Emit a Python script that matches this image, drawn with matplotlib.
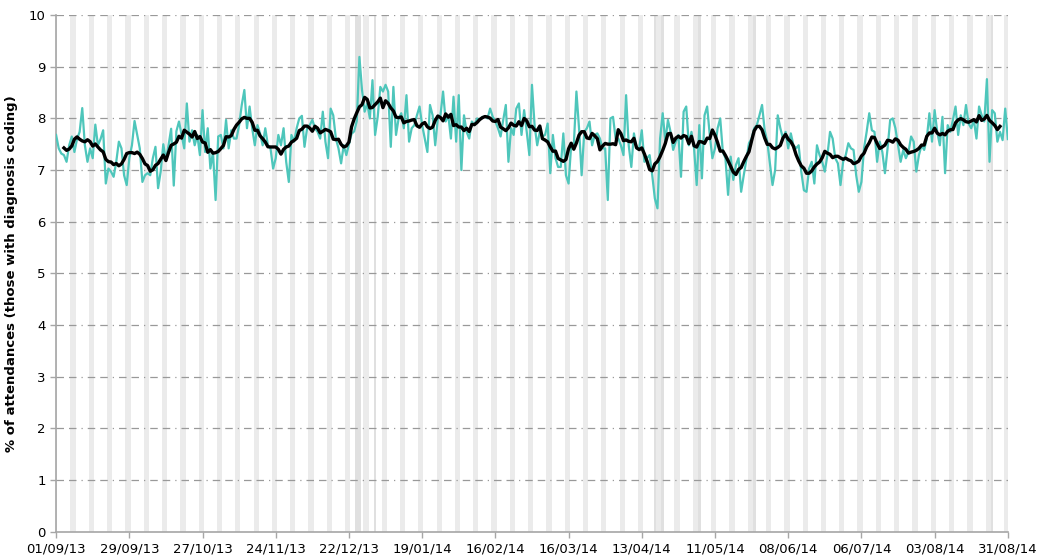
import matplotlib
matplotlib.use('Agg')
import matplotlib.pyplot as plt
import matplotlib.dates as mdates
import numpy as np
import pandas as pd

start_date = '2013-09-01'
# daily % of attendances, one row per week (Sun..Sat)
attend_pct = [
    7.68, 7.42, 7.32, 7.29, 7.16, 7.48, 7.65,
    7.35, 7.60, 7.74, 8.20, 7.48, 7.16, 7.42,
    7.23, 7.88, 7.48, 7.60, 7.77, 6.74, 7.03,
    6.97, 6.87, 7.16, 7.55, 7.42, 6.90, 6.71,
    7.23, 7.48, 7.95, 7.68, 7.42, 6.77, 6.90,
    6.94, 6.90, 7.23, 7.45, 6.65, 6.97, 7.50,
    7.19, 7.48, 7.80, 6.70, 7.75, 7.94, 7.68,
    7.42, 8.29, 7.55, 7.77, 7.48, 7.68, 7.29,
    8.16, 7.35, 7.81, 7.03, 7.35, 6.42, 7.65,
    7.68, 7.42, 7.97, 7.42, 7.77, 7.61, 7.61,
    7.87, 8.26, 8.55, 7.81, 8.23, 7.81, 7.48,
    7.87, 7.71, 7.48, 7.81, 7.48, 7.42, 7.03,
    7.23, 7.68, 7.48, 7.81, 7.16, 6.77, 7.68,
    7.55, 7.81, 8.00, 8.05, 7.45, 7.81, 7.87,
    7.97, 7.81, 7.74, 7.61, 8.13, 7.55, 7.23,
    8.19, 8.06, 7.61, 7.42, 7.13, 7.48, 7.29,
    7.50, 7.70, 7.75, 7.95, 9.19, 8.55, 8.13,
    8.29, 8.00, 8.74, 7.68, 8.03, 8.61, 8.52,
    8.65, 8.52, 7.45, 8.61, 7.68, 8.00, 8.10,
    7.81, 8.45, 7.55, 7.81, 7.87, 8.06, 8.23,
    7.87, 7.61, 7.35, 8.26, 8.06, 7.48, 8.00,
    8.06, 8.52, 7.94, 8.06, 7.61, 8.42, 7.55,
    8.45, 7.00, 8.06, 7.74, 7.61, 7.94, 7.87,
    8.00, 7.97, 8.03, 8.03, 8.00, 8.19, 8.03,
    7.94, 7.81, 7.65, 7.97, 8.26, 7.16, 7.81,
    7.68, 8.19, 8.29, 7.68, 8.16, 7.74, 7.29,
    8.65, 7.87, 7.48, 7.74, 7.65, 7.68, 7.90,
    6.94, 7.68, 7.23, 7.06, 7.06, 7.71, 6.90,
    6.74, 7.48, 7.48, 8.52, 7.81, 6.90, 7.74,
    7.81, 7.94, 7.48, 7.68, 7.71, 7.61, 7.42,
    7.42, 6.42, 8.00, 8.03, 7.61, 7.61, 7.48,
    7.29, 8.45, 7.48, 7.06, 7.71, 7.42, 7.42,
    7.77, 7.16, 7.23, 7.29, 6.90, 6.45, 6.26,
    7.61, 8.10, 7.55, 7.97, 7.74, 7.39, 7.55,
    7.68, 6.87, 8.13, 8.23, 7.48, 7.74, 7.42,
    6.71, 7.87, 6.84, 8.06, 8.23, 7.68, 7.23,
    7.42, 7.81, 8.00, 7.35, 7.23, 6.52, 7.26,
    6.81, 7.10, 7.23, 6.58, 6.90, 7.20, 7.52,
    7.61, 7.81, 7.87, 8.06, 8.26, 7.77, 7.55,
    7.13, 6.71, 7.00, 8.06, 7.81, 7.61, 7.74,
    7.42, 7.71, 7.48, 7.42, 7.48, 6.97, 6.61,
    6.58, 7.03, 7.16, 6.74, 7.48, 7.29, 7.16,
    6.97, 7.29, 7.74, 7.61, 7.23, 7.13, 6.71,
    7.16, 7.29, 7.52, 7.42, 7.39, 6.90, 6.58,
    6.77, 7.42, 7.74, 8.10, 7.77, 7.74, 7.16,
    7.55, 7.35, 6.94, 7.42, 7.97, 8.00, 7.81,
    7.48, 7.16, 7.39, 7.23, 7.35, 7.65, 7.55,
    6.97, 7.29, 7.48, 7.39, 7.61, 8.10, 7.55,
    8.16, 7.74, 7.48, 8.03, 6.94, 7.87, 7.74,
    7.97, 8.23, 7.68, 8.06, 7.87, 8.26, 7.90,
    7.81, 7.97, 7.61, 8.23, 8.06, 7.94, 8.76,
    7.16, 8.16, 8.10, 7.55, 7.74, 7.58, 8.19,
    7.60,
]
bank_holidays = ['2013-12-25', '2013-12-26', '2014-01-01', '2014-04-18',
                 '2014-04-21', '2014-05-05', '2014-05-26', '2014-08-25']

days = pd.date_range(start_date, periods=len(attend_pct), freq='D')
daily = pd.Series(attend_pct, index=days)
rolling = daily.rolling(7, center=True).mean()

weekend = days[days.weekday >= 5]
hols = pd.to_datetime(bank_holidays)

fig = plt.figure(figsize=(10.39, 5.58), dpi=100)
ax = fig.add_axes([0.054, 0.047, 0.916, 0.926])

ax.bar(weekend, [10] * len(weekend), width=1.0, color='#ebebeb', zorder=1)
ax.bar(hols, [10] * len(hols), width=1.0, color='#e0e0e0', zorder=1)

ax.set_yticks(range(0, 11))
for yv in range(1, 11):
    ax.axhline(yv, color='#999999', lw=0.9, ls=(0, (6, 4, 6, 4, 1, 4)), zorder=2)

ax.plot(days, daily.values, color='#4ec6bb', lw=1.6, zorder=3)
ax.plot(days, rolling.values, color='black', lw=2.4, zorder=4)

ax.set_ylim(0, 10)
ax.set_xlim(days[0], days[-1])
ax.set_xticks(days[::28])
ax.xaxis.set_major_formatter(mdates.DateFormatter('%d/%m/%y'))

for s in ['top', 'right']:
    ax.spines[s].set_visible(False)
for s in ['left', 'bottom']:
    ax.spines[s].set_color('#a6a6a6')
    ax.spines[s].set_linewidth(1.2)
ax.tick_params(axis='both', colors='#a6a6a6', labelcolor='black', labelsize=9.5,
               length=4, width=1)
ax.set_ylabel('% of attendances (those with diagnosis coding)', fontsize=9.5,
              fontweight='bold', labelpad=8)

fig.savefig('out.png', dpi=100)
